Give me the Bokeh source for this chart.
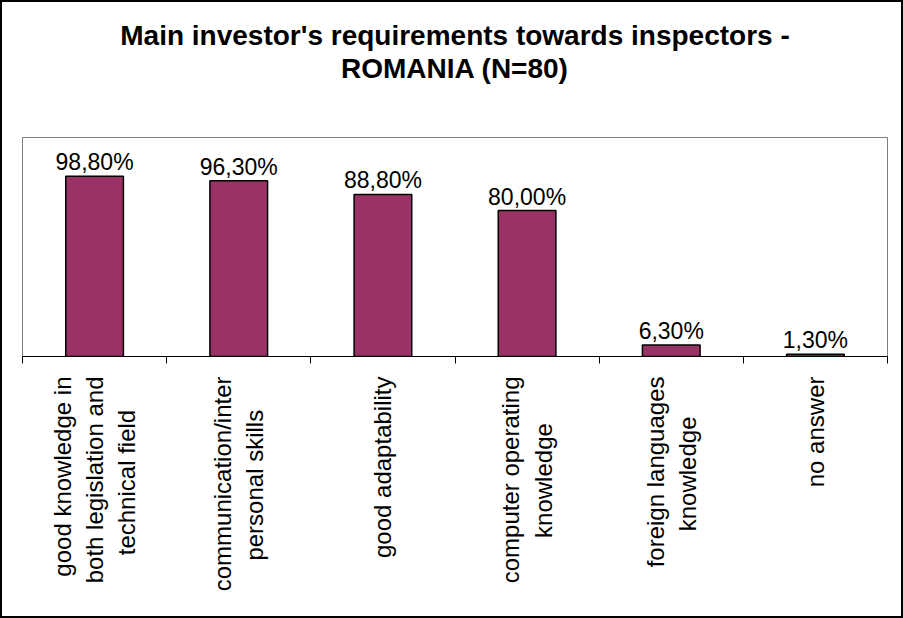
import math
from bokeh.plotting import figure
from bokeh.layouts import column
from bokeh.models import (ColumnDataSource, Range1d, LinearAxis, FixedTicker, Title)
from bokeh.core.properties import value
from bokeh.embed import file_html
from bokeh.resources import INLINE

# ---- data ----
title_line1 = "Main investor's requirements towards inspectors -"
title_line2 = "ROMANIA (N=80)"
categories = [
    "good knowledge in\nboth legislation and\ntechnical field",
    "communication/inter\npersonal skills",
    "good adaptability",
    "computer operating\nknowledge",
    "foreign languages\nknowledge",
    "no answer",
]
percentages = [98.8, 96.3, 88.8, 80.0, 6.3, 1.3]
value_labels = ["98,80%", "96,30%", "88,80%", "80,00%", "6,30%", "1,30%"]
y_max = 120

FONT = "Liberation Sans"
BAR_COLOR = "#993366"

# Arial / Liberation Sans advance widths (1/1000 em), used only to centre the
# lines of the multi-line axis labels (Bokeh right-aligns rotated label lines)
_W = {" ": 278, "/": 278, "a": 556, "b": 556, "c": 500, "d": 556, "e": 556,
      "f": 278, "g": 556, "h": 556, "i": 222, "j": 222, "k": 500, "l": 222,
      "m": 833, "n": 556, "o": 556, "p": 556, "q": 556, "r": 333, "s": 500,
      "t": 278, "u": 556, "v": 500, "w": 722, "x": 500, "y": 500, "z": 500}


def centre_lines(label):
    lines = label.split("\n")
    widths = [sum(_W.get(ch, 556) for ch in ln) for ln in lines]
    wmax = max(widths)
    return "\n".join(ln + " " * int(round((wmax - w) / 2 / _W[" "]))
                     for ln, w in zip(lines, widths))


n = len(categories)
centers = [i + 0.5 for i in range(n)]          # category slot centres
bounds = list(range(n + 1))                     # category slot boundaries

src = ColumnDataSource(dict(x=centers, pct=percentages, lbl=value_labels))

p = figure(width=899, height=614,
           x_range=Range1d(0, n),
           y_range=Range1d(0, y_max),
           output_backend="svg", toolbar_location=None,
           x_axis_location=None, y_axis_location=None,
           min_border_left=20, min_border_right=14,
           min_border_top=135, min_border_bottom=260)

p.background_fill_color = "white"
p.border_fill_color = "white"
p.outline_line_color = "#808080"
p.outline_line_width = 1
p.grid.visible = False

tick_axis = LinearAxis(ticker=FixedTicker(ticks=bounds),
                       major_tick_in=0, major_tick_out=7,
                       major_tick_line_color="black", axis_line_color="black",
                       minor_tick_line_color=None,
                       major_label_text_font_size="0px",
                       major_label_standoff=0,
                       major_label_overrides={b: "" for b in bounds})
cat_axis = LinearAxis(ticker=FixedTicker(ticks=centers),
                      major_label_overrides={c: centre_lines(t)
                                             for c, t in zip(centers, categories)},
                      major_label_orientation=math.pi / 2,
                      axis_line_color=None, major_tick_line_color=None,
                      minor_tick_line_color=None,
                      major_tick_in=0, major_tick_out=0,
                      major_label_text_font=FONT,
                      major_label_text_font_size="24px",
                      major_label_text_color="black",
                      major_label_standoff=13)
p.add_layout(tick_axis, "below")
p.add_layout(cat_axis, "below")

p.vbar(x="x", top="pct", width=0.4, source=src,
       fill_color=BAR_COLOR, line_color="black", line_width=1.5)

p.text(x="x", y="pct", text="lbl", source=src,
       text_align="center", text_baseline="bottom", y_offset=-1,
       text_font=value(FONT), text_font_size="23px", text_color="black")

# titles: an invisible spacer keeps the two title lines away from the plot frame
spacer = Title(text=" ", text_font_size="1px", standoff=51)
t2 = Title(text=title_line2, align="center", text_font=FONT, text_color="black",
           text_font_size="28px", text_font_style="bold", standoff=0)
t1 = Title(text=title_line1, align="center", text_font=FONT, text_color="black",
           text_font_size="28px", text_font_style="bold", standoff=0)
p.add_layout(spacer, "above")
p.add_layout(t2, "above")
p.add_layout(t1, "above")

layout = column(p, width=903, height=618,
                styles={"border": "2px solid black", "box-sizing": "border-box"})

open("out.html", "w").write(file_html(layout, INLINE))
